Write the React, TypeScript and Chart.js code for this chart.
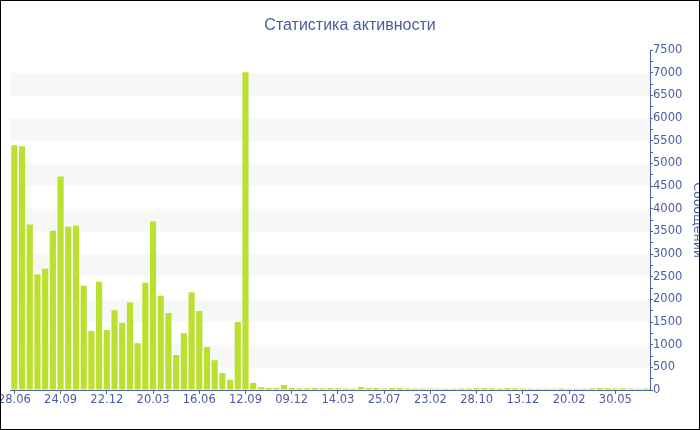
import React, { useEffect, useRef } from 'react';
import { Chart, registerables } from 'chart.js';

Chart.register(...registerables);

// Message counts per period
const messageCounts: number[] = [
  5400, 5380, 3655, 2552, 2676, 3514, 4714, 3603, 3625, 2301,
  1302, 2390, 1324, 1758, 1485, 1938, 1030, 2368, 3721, 2081,
  1699, 772, 1250, 2155, 1743, 949, 655, 375, 228, 1500,
  7015, 156, 59, 44, 44, 110, 51, 37, 37, 44,
  37, 44, 37, 33, 33, 66, 44, 44, 33, 44,
  44, 33, 33, 33, 33, 30, 28, 30, 33, 35,
  38, 42, 38, 33, 42, 38, 33, 30, 28, 30,
  28, 33, 28, 30, 30, 38, 42, 38, 35, 38,
  33, 30, 33,
];

// Date tick labels, shown at every 6th bar
const tickLabels: string[] = [
  '28.06', '24.09', '22.12', '20.03', '16.06', '12.09', '09.12',
  '14.03', '25.07', '23.02', '28.10', '13.12', '20.02', '30.05',
];
const labelEvery = 6;

const yTicks = { min: 0, max: 7500, minorStep: 250, majorStep: 500 };

const categories: string[] = messageCounts.map((_, i) =>
  i % labelEvery === 0 && tickLabels[i / labelEvery] ? tickLabels[i / labelEvery] : ''
);

const TEXT_COLOR = '#4b5c9e';
const AXIS_COLOR = '#4f62a6';
const BAR_COLOR = '#bbe030';
const BAND_COLOR = '#f7f7f7';

const bandsPlugin = {
  id: 'alternateBands',
  beforeDatasetsDraw(chart: any) {
    const { ctx, chartArea, scales } = chart;
    const y = scales.y;
    ctx.save();
    ctx.fillStyle = BAND_COLOR;
    for (let v = yTicks.majorStep; v < yTicks.max; v += yTicks.majorStep * 2) {
      const top = y.getPixelForValue(v + yTicks.majorStep);
      const bottom = y.getPixelForValue(v);
      ctx.fillRect(chartArea.left, top, chartArea.right - chartArea.left, bottom - top);
    }
    ctx.restore();
  },
};

export default function App() {
  const canvasRef = useRef<HTMLCanvasElement | null>(null);

  useEffect(() => {
    if (!canvasRef.current) return;
    const chart = new Chart(canvasRef.current, {
      type: 'bar',
      data: {
        labels: categories,
        datasets: [
          {
            label: 'Сообщений',
            data: messageCounts,
            backgroundColor: BAR_COLOR,
            borderWidth: 0,
            barPercentage: 0.8,
            categoryPercentage: 1,
            yAxisID: 'y',
          },
        ],
      },
      options: {
        animation: false,
        responsive: false,
        devicePixelRatio: 1,
        layout: { padding: 0 },
        plugins: {
          legend: { display: false },
          tooltip: { enabled: false },
          title: {
            display: true,
            text: 'Статистика активности',
            color: TEXT_COLOR,
            font: { family: 'Liberation Sans', size: 16, weight: 'normal' },
            padding: { top: 15, bottom: 15 },
          },
        },
        scales: {
          x: {
            type: 'category',
            offset: true,
            afterFit(scale: any) {
              scale.height = 39;
              scale.paddingLeft = 0;
              scale.paddingRight = 0;
            },
            border: { display: true, color: AXIS_COLOR, width: 1 },
            grid: {
              display: true,
              offset: false,
              drawOnChartArea: false,
              drawTicks: true,
              tickLength: 4,
              color: (ctx: any) => (ctx.index % labelEvery === 0 ? AXIS_COLOR : 'rgba(0,0,0,0)'),
            },
            ticks: {
              autoSkip: false,
              maxRotation: 0,
              minRotation: 0,
              padding: -1,
              color: TEXT_COLOR,
              font: { family: 'DejaVu Sans', size: 11.5 },
              callback: (_v: any, i: number) => categories[i],
            },
          },
          spacer: {
            type: 'linear',
            position: 'left',
            display: true,
            afterFit(scale: any) {
              scale.width = 9.5;
              scale.paddingTop = 0;
              scale.paddingBottom = 0;
            },
            grid: { display: false },
            border: { display: false },
            ticks: { display: false },
          },
          y: {
            position: 'right',
            min: yTicks.min,
            max: yTicks.max,
            afterFit(scale: any) {
              scale.width = 49;
            },
            border: { display: true, color: AXIS_COLOR, width: 1 },
            grid: {
              display: true,
              drawOnChartArea: false,
              drawTicks: true,
              tickLength: 3,
              color: AXIS_COLOR,
            },
            ticks: {
              stepSize: yTicks.minorStep,
              autoSkip: false,
              padding: 0,
              color: TEXT_COLOR,
              font: { family: 'DejaVu Sans', size: 11.5 },
              callback: (v: any) => (Number(v) % yTicks.majorStep === 0 ? String(v) : ''),
            },
            title: {
              display: true,
              text: 'Сообщений',
              color: TEXT_COLOR,
              font: { family: 'DejaVu Sans', size: 12.5 },
              padding: { top: -6, bottom: 0 },
            },
          },
        },
      },
      plugins: [bandsPlugin],
    } as any);
    return () => chart.destroy();
  }, []);

  return (
    <div
      style={{
        position: 'absolute',
        left: 0,
        top: 0,
        width: 700,
        height: 430,
        border: '1px solid #000',
        boxSizing: 'border-box',
        background: '#fff',
      }}
    >
      <canvas ref={canvasRef} width={698} height={428} style={{ display: 'block', width: 698, height: 428 }} />
    </div>
  );
}
